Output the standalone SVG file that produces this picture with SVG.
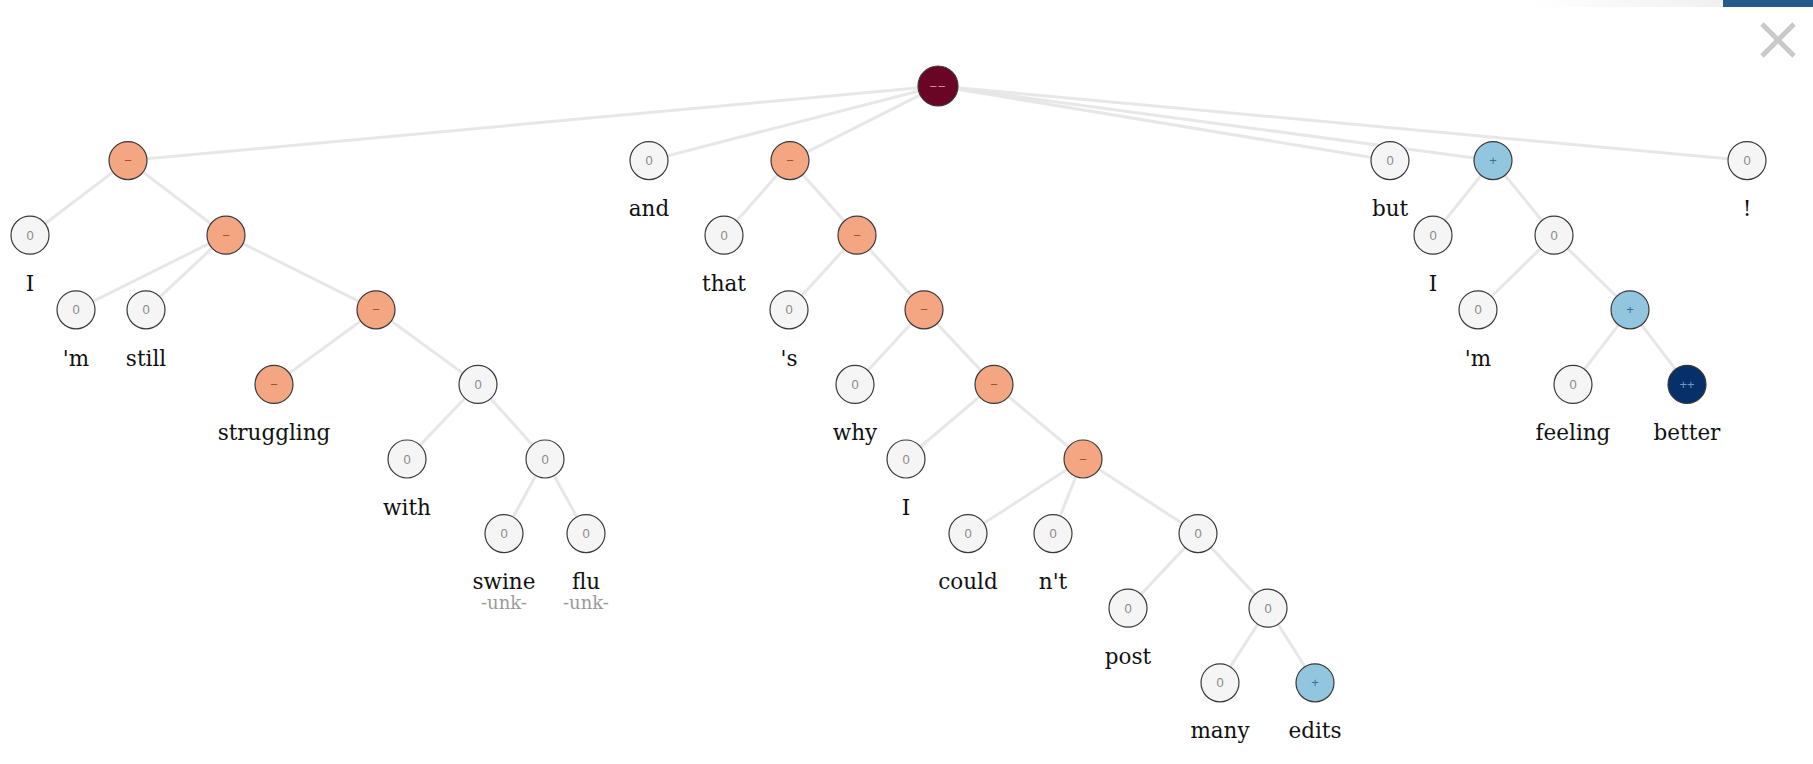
<svg xmlns="http://www.w3.org/2000/svg" width="1813" height="764" viewBox="0 0 1813 764">
<style>
.e{stroke:#e7e7e7;stroke-width:3;fill:none}
.n circle{stroke:#3a3a3a;stroke-width:1.2}
.z{fill:#f5f5f5}
.o{fill:#f4a582}
.r{fill:#6b0525}
.b{fill:#92c5de}
.d{fill:#06306a}
.t{font-family:"Liberation Sans","Open Sans",sans-serif;font-size:13px;text-anchor:middle;dominant-baseline:central}
.tz{fill:#8a8a8a}
.to{fill:#a0522d}
.tr{fill:#e08a9a}
.tb{fill:#3d6f94}
.td{fill:#6f95c8}
.w{font-family:"DejaVu Serif","Liberation Serif",serif;font-size:21.5px;text-anchor:middle;fill:#111}
.u{font-family:"DejaVu Serif","Liberation Serif",serif;font-size:18px;text-anchor:middle;fill:#9a9a9a}
</style>
<defs>
<linearGradient id="g" x1="0" x2="1" y1="0" y2="0">
<stop offset="0" stop-color="#ffffff"/>
<stop offset="1" stop-color="#f0f0f0"/>
</linearGradient>
</defs>
<rect x="0" y="0" width="1813" height="764" fill="#ffffff"/>
<rect x="1530" y="0" width="193" height="7" fill="url(#g)"/>
<rect x="1723" y="0" width="90" height="7" fill="#265a8c"/>
<g id="close" stroke="#c9c9c9" stroke-width="5" stroke-linecap="butt">
<line x1="1762" y1="24" x2="1794" y2="56"/>
<line x1="1794" y1="24" x2="1762" y2="56"/>
</g>
<g id="connectors" class="e">
<line x1="938" y1="86" x2="128" y2="160.6"/>
<line x1="938" y1="86" x2="649" y2="160.6"/>
<line x1="938" y1="86" x2="790" y2="160.6"/>
<line x1="938" y1="86" x2="1390" y2="160.6"/>
<line x1="938" y1="86" x2="1493" y2="160.6"/>
<line x1="938" y1="86" x2="1747" y2="160.6"/>
<line x1="128" y1="160.6" x2="30" y2="235.2"/>
<line x1="128" y1="160.6" x2="226" y2="235.2"/>
<line x1="226" y1="235.2" x2="76" y2="309.8"/>
<line x1="226" y1="235.2" x2="146" y2="309.8"/>
<line x1="226" y1="235.2" x2="376" y2="309.8"/>
<line x1="376" y1="309.8" x2="274" y2="384.4"/>
<line x1="376" y1="309.8" x2="478" y2="384.4"/>
<line x1="478" y1="384.4" x2="407" y2="459"/>
<line x1="478" y1="384.4" x2="545" y2="459"/>
<line x1="545" y1="459" x2="504" y2="533.6"/>
<line x1="545" y1="459" x2="586" y2="533.6"/>
<line x1="790" y1="160.6" x2="724" y2="235.2"/>
<line x1="790" y1="160.6" x2="857" y2="235.2"/>
<line x1="857" y1="235.2" x2="789" y2="309.8"/>
<line x1="857" y1="235.2" x2="924" y2="309.8"/>
<line x1="924" y1="309.8" x2="855" y2="384.4"/>
<line x1="924" y1="309.8" x2="994" y2="384.4"/>
<line x1="994" y1="384.4" x2="906" y2="459"/>
<line x1="994" y1="384.4" x2="1083" y2="459"/>
<line x1="1083" y1="459" x2="968" y2="533.6"/>
<line x1="1083" y1="459" x2="1053" y2="533.6"/>
<line x1="1083" y1="459" x2="1198" y2="533.6"/>
<line x1="1198" y1="533.6" x2="1128" y2="608.2"/>
<line x1="1198" y1="533.6" x2="1268" y2="608.2"/>
<line x1="1268" y1="608.2" x2="1220" y2="682.8"/>
<line x1="1268" y1="608.2" x2="1315" y2="682.8"/>
<line x1="1493" y1="160.6" x2="1433" y2="235.2"/>
<line x1="1493" y1="160.6" x2="1554" y2="235.2"/>
<line x1="1554" y1="235.2" x2="1478" y2="309.8"/>
<line x1="1554" y1="235.2" x2="1630" y2="309.8"/>
<line x1="1630" y1="309.8" x2="1573" y2="384.4"/>
<line x1="1630" y1="309.8" x2="1687" y2="384.4"/>
</g>
<g id="root" class="n"><circle class="r" cx="938" cy="86" r="20"/><text class="t tr" x="938" y="86" letter-spacing="1">−−</text></g>
<g id="n1" class="n"><circle class="o" cx="128" cy="160.6" r="19"/><text class="t to" x="128" y="160.6">−</text></g>
<g id="n_I1" class="n"><circle class="z" cx="30" cy="235.2" r="19"/><text class="t tz" x="30" y="235.2">0</text><text class="w" x="30" y="291">I</text></g>
<g id="n2" class="n"><circle class="o" cx="226" cy="235.2" r="19"/><text class="t to" x="226" y="235.2">−</text></g>
<g id="n_m1" class="n"><circle class="z" cx="76" cy="309.8" r="19"/><text class="t tz" x="76" y="309.8">0</text><text class="w" x="76" y="365.5">'m</text></g>
<g id="n_still" class="n"><circle class="z" cx="146" cy="309.8" r="19"/><text class="t tz" x="146" y="309.8">0</text><text class="w" x="146" y="365.5">still</text></g>
<g id="n3" class="n"><circle class="o" cx="376" cy="309.8" r="19"/><text class="t to" x="376" y="309.8">−</text></g>
<g id="n_struggling" class="n"><circle class="o" cx="274" cy="384.4" r="19"/><text class="t to" x="274" y="384.4">−</text><text class="w" x="274" y="440">struggling</text></g>
<g id="n4" class="n"><circle class="z" cx="478" cy="384.4" r="19"/><text class="t tz" x="478" y="384.4">0</text></g>
<g id="n_with" class="n"><circle class="z" cx="407" cy="459" r="19"/><text class="t tz" x="407" y="459">0</text><text class="w" x="407" y="514.5">with</text></g>
<g id="n5" class="n"><circle class="z" cx="545" cy="459" r="19"/><text class="t tz" x="545" y="459">0</text></g>
<g id="n_swine" class="n"><circle class="z" cx="504" cy="533.6" r="19"/><text class="t tz" x="504" y="533.6">0</text><text class="w" x="504" y="589">swine</text><text class="u" x="504" y="609">-unk-</text></g>
<g id="n_flu" class="n"><circle class="z" cx="586" cy="533.6" r="19"/><text class="t tz" x="586" y="533.6">0</text><text class="w" x="586" y="589">flu</text><text class="u" x="586" y="609">-unk-</text></g>
<g id="n_and" class="n"><circle class="z" cx="649" cy="160.6" r="19"/><text class="t tz" x="649" y="160.6">0</text><text class="w" x="649" y="216">and</text></g>
<g id="n6" class="n"><circle class="o" cx="790" cy="160.6" r="19"/><text class="t to" x="790" y="160.6">−</text></g>
<g id="n_that" class="n"><circle class="z" cx="724" cy="235.2" r="19"/><text class="t tz" x="724" y="235.2">0</text><text class="w" x="724" y="291">that</text></g>
<g id="n7" class="n"><circle class="o" cx="857" cy="235.2" r="19"/><text class="t to" x="857" y="235.2">−</text></g>
<g id="n_s" class="n"><circle class="z" cx="789" cy="309.8" r="19"/><text class="t tz" x="789" y="309.8">0</text><text class="w" x="789" y="365.5">'s</text></g>
<g id="n8" class="n"><circle class="o" cx="924" cy="309.8" r="19"/><text class="t to" x="924" y="309.8">−</text></g>
<g id="n_why" class="n"><circle class="z" cx="855" cy="384.4" r="19"/><text class="t tz" x="855" y="384.4">0</text><text class="w" x="855" y="440">why</text></g>
<g id="n9" class="n"><circle class="o" cx="994" cy="384.4" r="19"/><text class="t to" x="994" y="384.4">−</text></g>
<g id="n_I2" class="n"><circle class="z" cx="906" cy="459" r="19"/><text class="t tz" x="906" y="459">0</text><text class="w" x="906" y="514.5">I</text></g>
<g id="n10" class="n"><circle class="o" cx="1083" cy="459" r="19"/><text class="t to" x="1083" y="459">−</text></g>
<g id="n_could" class="n"><circle class="z" cx="968" cy="533.6" r="19"/><text class="t tz" x="968" y="533.6">0</text><text class="w" x="968" y="589">could</text></g>
<g id="n_nt" class="n"><circle class="z" cx="1053" cy="533.6" r="19"/><text class="t tz" x="1053" y="533.6">0</text><text class="w" x="1053" y="589">n't</text></g>
<g id="n11" class="n"><circle class="z" cx="1198" cy="533.6" r="19"/><text class="t tz" x="1198" y="533.6">0</text></g>
<g id="n_post" class="n"><circle class="z" cx="1128" cy="608.2" r="19"/><text class="t tz" x="1128" y="608.2">0</text><text class="w" x="1128" y="664">post</text></g>
<g id="n12" class="n"><circle class="z" cx="1268" cy="608.2" r="19"/><text class="t tz" x="1268" y="608.2">0</text></g>
<g id="n_many" class="n"><circle class="z" cx="1220" cy="682.8" r="19"/><text class="t tz" x="1220" y="682.8">0</text><text class="w" x="1220" y="738">many</text></g>
<g id="n_edits" class="n"><circle class="b" cx="1315" cy="682.8" r="19"/><text class="t tb" x="1315" y="682.8">+</text><text class="w" x="1315" y="738">edits</text></g>
<g id="n_but" class="n"><circle class="z" cx="1390" cy="160.6" r="19"/><text class="t tz" x="1390" y="160.6">0</text><text class="w" x="1390" y="216">but</text></g>
<g id="n13" class="n"><circle class="b" cx="1493" cy="160.6" r="19"/><text class="t tb" x="1493" y="160.6">+</text></g>
<g id="n_I3" class="n"><circle class="z" cx="1433" cy="235.2" r="19"/><text class="t tz" x="1433" y="235.2">0</text><text class="w" x="1433" y="291">I</text></g>
<g id="n14" class="n"><circle class="z" cx="1554" cy="235.2" r="19"/><text class="t tz" x="1554" y="235.2">0</text></g>
<g id="n_m2" class="n"><circle class="z" cx="1478" cy="309.8" r="19"/><text class="t tz" x="1478" y="309.8">0</text><text class="w" x="1478" y="365.5">'m</text></g>
<g id="n15" class="n"><circle class="b" cx="1630" cy="309.8" r="19"/><text class="t tb" x="1630" y="309.8">+</text></g>
<g id="n_feeling" class="n"><circle class="z" cx="1573" cy="384.4" r="19"/><text class="t tz" x="1573" y="384.4">0</text><text class="w" x="1573" y="440">feeling</text></g>
<g id="n_better" class="n"><circle class="d" cx="1687" cy="384.4" r="19"/><text class="t td" x="1687" y="384.4">++</text><text class="w" x="1687" y="440">better</text></g>
<g id="n_excl" class="n"><circle class="z" cx="1747" cy="160.6" r="19"/><text class="t tz" x="1747" y="160.6">0</text><text class="w" x="1747" y="216">!</text></g>
</svg>
